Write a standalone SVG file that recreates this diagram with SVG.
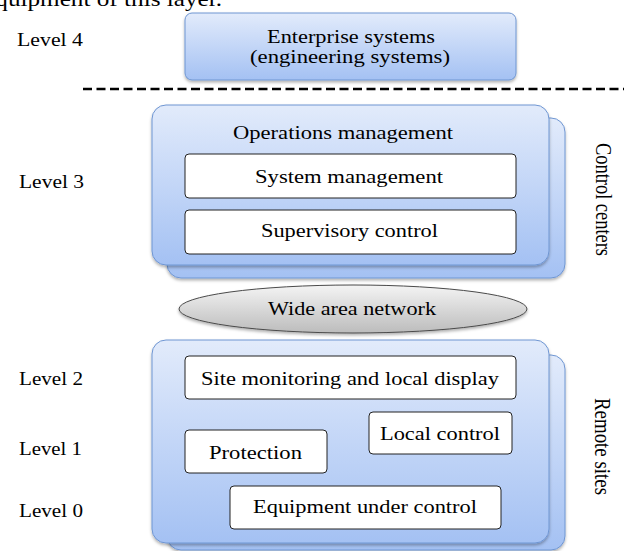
<svg xmlns="http://www.w3.org/2000/svg" width="624" height="551" viewBox="0 0 624 551">
  <defs>
    <linearGradient id="blueGrad" x1="0" y1="0" x2="0" y2="1">
      <stop offset="0" stop-color="#e2ebfb"/>
      <stop offset="1" stop-color="#a4c1f3"/>
    </linearGradient>
    <linearGradient id="grayGrad" x1="0" y1="0" x2="0" y2="1">
      <stop offset="0" stop-color="#f4f4f4"/>
      <stop offset="1" stop-color="#bcbcbc"/>
    </linearGradient>
    <filter id="shadow" x="-10%" y="-10%" width="120%" height="130%">
      <feDropShadow dx="0" dy="2" stdDeviation="1.5" flood-color="#000" flood-opacity="0.3"/>
    </filter>
  </defs>
  <style>
    text { font-family: "Liberation Serif", "Times New Roman", serif; font-size: 18.5px; fill: #000; }
    .panel { fill: url(#blueGrad); stroke: #6f96d2; stroke-width: 1; filter: url(#shadow); }
    .inner { fill: #ffffff; stroke: #222; stroke-width: 1; }
    .wan { fill: url(#grayGrad); stroke: #4a4a4a; stroke-width: 1; filter: url(#shadow); }
    .divider { stroke: #000; stroke-width: 2.6; stroke-dasharray: 9 4.5; fill: none; }
  </style>

  <!-- running text of the page above the figure -->
  <text transform="translate(222,6) scale(1.2,1)" text-anchor="end" style="font-size:21px">equipment of this layer.</text>

  <!-- level labels -->
  <g id="levels">
    <text x="17" y="46" textLength="66" lengthAdjust="spacingAndGlyphs">Level 4</text>
    <text x="19" y="188" textLength="65" lengthAdjust="spacingAndGlyphs">Level 3</text>
    <text x="19" y="385" textLength="64" lengthAdjust="spacingAndGlyphs">Level 2</text>
    <text x="19" y="455" textLength="63" lengthAdjust="spacingAndGlyphs">Level 1</text>
    <text x="19" y="517" textLength="64" lengthAdjust="spacingAndGlyphs">Level 0</text>
  </g>

  <!-- enterprise layer -->
  <g id="enterprise">
    <rect class="panel" x="185" y="13" width="331" height="67" rx="7"/>
    <text x="267" y="43" textLength="168" lengthAdjust="spacingAndGlyphs">Enterprise systems</text>
    <text x="250" y="63" textLength="200" lengthAdjust="spacingAndGlyphs">(engineering systems)</text>
  </g>

  <!-- boundary between enterprise and control layers -->
  <g id="connectors">
    <line class="divider" x1="83" y1="89" x2="624" y2="89"/>
  </g>

  <!-- control centers (stacked) -->
  <g id="control-centers">
    <rect class="panel" x="167" y="118" width="398" height="160" rx="14"/>
    <rect class="panel" x="152" y="105" width="397" height="160" rx="14"/>
    <text x="233" y="139" textLength="220" lengthAdjust="spacingAndGlyphs">Operations management</text>
  </g>
  <g id="system-management">
    <rect class="inner" x="185" y="154" width="331" height="44" rx="4"/>
    <text x="255" y="183" textLength="188" lengthAdjust="spacingAndGlyphs">System management</text>
  </g>
  <g id="supervisory-control">
    <rect class="inner" x="185" y="210" width="331" height="44" rx="4"/>
    <text x="261" y="237" textLength="177" lengthAdjust="spacingAndGlyphs">Supervisory control</text>
  </g>

  <!-- wide area network -->
  <g id="wan">
    <ellipse class="wan" cx="353" cy="309" rx="174" ry="24"/>
    <text x="268" y="315" textLength="168" lengthAdjust="spacingAndGlyphs">Wide area network</text>
  </g>

  <!-- remote sites (stacked) -->
  <g id="remote-sites">
    <rect class="panel" x="167" y="355" width="398" height="195" rx="14"/>
    <rect class="panel" x="152" y="340" width="397" height="203" rx="14"/>
  </g>
  <g id="site-monitoring">
    <rect class="inner" x="185" y="356" width="331" height="43" rx="4"/>
    <text x="201" y="385" textLength="298" lengthAdjust="spacingAndGlyphs">Site monitoring and local display</text>
  </g>
  <g id="local-control">
    <rect class="inner" x="369" y="412" width="143" height="42" rx="4"/>
    <text x="380" y="440" textLength="120" lengthAdjust="spacingAndGlyphs">Local control</text>
  </g>
  <g id="protection">
    <rect class="inner" x="185" y="430" width="142" height="43" rx="4"/>
    <text x="209" y="459" textLength="93" lengthAdjust="spacingAndGlyphs">Protection</text>
  </g>
  <g id="equipment">
    <rect class="inner" x="230" y="486" width="271" height="43" rx="4"/>
    <text x="253" y="513" textLength="224" lengthAdjust="spacingAndGlyphs">Equipment under control</text>
  </g>

  <!-- side captions -->
  <g id="side-labels">
    <text transform="translate(596,143) scale(1.2,1) rotate(90)" textLength="113" lengthAdjust="spacingAndGlyphs">Control centers</text>
    <text transform="translate(595,398) scale(1.2,1) rotate(90)" textLength="97" lengthAdjust="spacingAndGlyphs">Remote sites</text>
  </g>
</svg>
